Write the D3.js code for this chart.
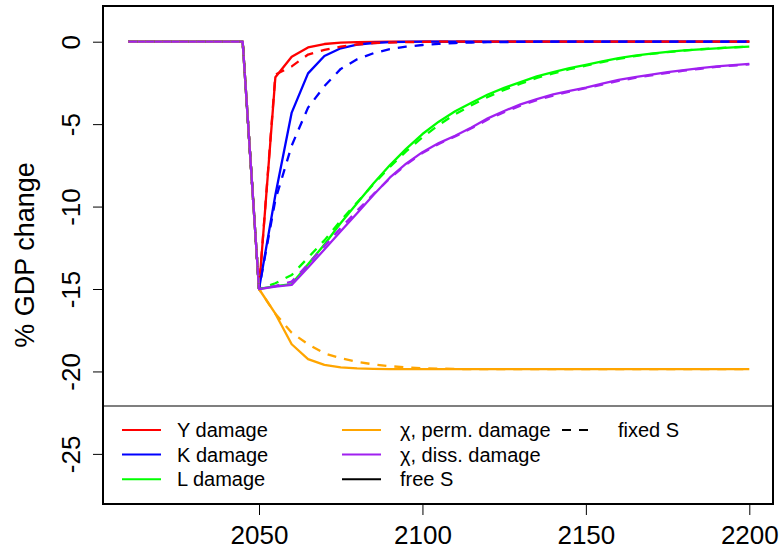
<!DOCTYPE html>
<html>
<head>
<meta charset="utf-8">
<script src="https://cdn.jsdelivr.net/npm/d3@7"></script>
<style>
  html, body { margin: 0; padding: 0; background: #fff; }
  svg { display: block; }
  text { font-family: "Liberation Sans", Arial, sans-serif; fill: #000; }
</style>
</head>
<body>
<svg id="chart" width="781" height="550"></svg>
<script>
// Model years (5-year steps)
const years = [2010, 2015, 2020, 2025, 2030, 2035, 2040, 2045,
  2050, 2055, 2060, 2065, 2070, 2075, 2080, 2085, 2090, 2095,
  2100, 2105, 2110, 2115, 2120, 2125, 2130, 2135, 2140, 2145,
  2150, 2155, 2160, 2165, 2170, 2175, 2180, 2185, 2190, 2195, 2200];

// % GDP change, free savings rate (solid lines)
const yDamageFree = [0, 0, 0, 0, 0, 0, 0, 0,
  -15, -2.16, -0.91, -0.35, -0.14, -0.06, -0.03, -0.01, 0, 0,
  0, 0, 0, 0, 0, 0, 0, 0, 0, 0, 0, 0, 0, 0, 0, 0, 0, 0, 0, 0, 0];
const kDamageFree = [0, 0, 0, 0, 0, 0, 0, 0,
  -15, -9.3, -4.3, -1.92, -0.87, -0.4, -0.18, -0.08, -0.03, -0.01,
  0, 0, 0, 0, 0, 0, 0, 0, 0, 0, 0, 0, 0, 0, 0, 0, 0, 0, 0, 0, 0];
const lDamageFree = [0, 0, 0, 0, 0, 0, 0, 0,
  -15, -14.82, -14.7, -13.5, -12.3, -11.0, -9.8, -8.6, -7.5, -6.5,
  -5.6, -4.85, -4.22, -3.7, -3.2, -2.8, -2.45, -2.1, -1.85, -1.6,
  -1.4, -1.2, -1.0, -0.85, -0.72, -0.62, -0.53, -0.46, -0.4, -0.34, -0.3];
const chiPermFree = [0, 0, 0, 0, 0, 0, 0, 0,
  -15, -16.5, -18.35, -19.25, -19.6, -19.75, -19.82, -19.85, -19.86, -19.86,
  -19.86, -19.86, -19.86, -19.86, -19.86, -19.86, -19.86, -19.86, -19.86, -19.86,
  -19.86, -19.86, -19.86, -19.86, -19.86, -19.86, -19.86, -19.86, -19.86, -19.86, -19.86];
const chiDissFree = [0, 0, 0, 0, 0, 0, 0, 0,
  -15, -14.85, -14.75, -13.7, -12.6, -11.5, -10.4, -9.3, -8.25, -7.4,
  -6.7, -6.15, -5.7, -5.2, -4.65, -4.2, -3.8, -3.48, -3.2, -2.98,
  -2.78, -2.55, -2.32, -2.15, -2.0, -1.85, -1.72, -1.6, -1.5, -1.42, -1.35];

// % GDP change, fixed savings rate (dashed lines)
const yDamageFixed = [0, 0, 0, 0, 0, 0, 0, 0,
  -15, -2.0, -1.5, -0.78, -0.5, -0.3, -0.17, -0.09, -0.05, -0.03,
  -0.01, 0, 0, 0, 0, 0, 0, 0, 0, 0, 0, 0, 0, 0, 0, 0, 0, 0, 0, 0, 0];
const kDamageFixed = [0, 0, 0, 0, 0, 0, 0, 0,
  -15, -9.6, -6.3, -4.0, -2.7, -1.65, -1.07, -0.7, -0.45, -0.3,
  -0.2, -0.13, -0.08, -0.05, -0.03, -0.02, -0.01, 0, 0, 0,
  0, 0, 0, 0, 0, 0, 0, 0, 0, 0, 0];
const lDamageFixed = [0, 0, 0, 0, 0, 0, 0, 0,
  -15, -14.65, -14.15, -13.1, -12.05, -10.85, -9.75, -8.65, -7.6, -6.65,
  -5.8, -5.05, -4.4, -3.85, -3.35, -2.92, -2.55, -2.2, -1.92, -1.67,
  -1.45, -1.24, -1.04, -0.87, -0.74, -0.63, -0.54, -0.46, -0.4, -0.34, -0.3];
const chiPermFixed = [0, 0, 0, 0, 0, 0, 0, 0,
  -15, -16.5, -17.65, -18.35, -18.9, -19.2, -19.42, -19.57, -19.68, -19.75,
  -19.8, -19.83, -19.85, -19.86, -19.86, -19.86, -19.86, -19.86, -19.86, -19.86,
  -19.86, -19.86, -19.86, -19.86, -19.86, -19.86, -19.86, -19.86, -19.86, -19.86, -19.86];
const chiDissFixed = [0, 0, 0, 0, 0, 0, 0, 0,
  -15, -14.82, -14.55, -13.5, -12.4, -11.3, -10.25, -9.25, -8.3, -7.45,
  -6.75, -6.2, -5.75, -5.25, -4.72, -4.27, -3.88, -3.55, -3.27, -3.03,
  -2.82, -2.6, -2.38, -2.2, -2.04, -1.89, -1.76, -1.64, -1.53, -1.45, -1.38];

const seriesNames = ["Y damage", "K damage", "L damage", "\u03C7, perm. damage", "\u03C7, diss. damage"];
const seriesColors = ["#FF0000", "#0000FF", "#00FF00", "#FFA500", "#A020F0"];
const freeSeries = [yDamageFree, kDamageFree, lDamageFree, chiPermFree, chiDissFree];
const fixedSeries = [yDamageFixed, kDamageFixed, lDamageFixed, chiPermFixed, chiDissFixed];

const xTicks = [2050, 2100, 2150, 2200];
const yTicks = [-25, -20, -15, -10, -5, 0];
const yLabel = "% GDP change";

// Plot region
const plotLeft = 103, plotRight = 773, plotTop = 6, plotBottom = 504;
const svg = d3.select("#chart");

const x = d3.scaleLinear().domain([2002.27, 2207.25]).range([plotLeft, plotRight]);
const y = d3.scaleLinear().domain([-28.04, 2.165]).range([plotBottom, plotTop]);

const line = d3.line()
  .x(d => x(d[0]))
  .y(d => y(d[1]));

const lines = svg.append("g");
// solid (free S) first, then dashed (fixed S) on top
freeSeries.forEach((vals, i) => {
  lines.append("path")
    .attr("d", line(years.map((yr, j) => [yr, vals[j]])))
    .attr("fill", "none")
    .attr("stroke", seriesColors[i])
    .attr("stroke-width", 2.3)
    .attr("stroke-linejoin", "round");
});
fixedSeries.forEach((vals, i) => {
  lines.append("path")
    .attr("d", line(years.map((yr, j) => [yr, vals[j]])))
    .attr("fill", "none")
    .attr("stroke", seriesColors[i])
    .attr("stroke-width", 2.3)
    .attr("stroke-dasharray", "9,8")
    .attr("stroke-linejoin", "round");
});

// Axes
const axisFont = 26;
const yAxis = svg.append("g")
  .attr("transform", `translate(${plotLeft},0)`)
  .call(d3.axisLeft(y).tickValues(yTicks).tickSize(10).tickFormat(d3.format("d")));
yAxis.select(".domain").remove();
yAxis.selectAll(".tick line").attr("stroke", "#000").attr("stroke-width", 1);
yAxis.selectAll(".tick text")
  .attr("x", null).attr("dy", null)
  .attr("transform", "translate(-23,0) rotate(-90)")
  .attr("text-anchor", "middle")
  .style("font-size", axisFont + "px")
  .style("font-family", '"Liberation Sans", Arial, sans-serif')
  .attr("fill", "#000")
  .text(d => d < 0 ? "-" + Math.abs(d) : String(d));

const xAxis = svg.append("g")
  .attr("transform", `translate(0,${plotBottom})`)
  .call(d3.axisBottom(x).tickValues(xTicks).tickSize(11).tickFormat(d3.format("d")));
xAxis.select(".domain").remove();
xAxis.selectAll(".tick line").attr("stroke", "#000").attr("stroke-width", 1);
xAxis.selectAll(".tick text")
  .attr("y", 40).attr("dy", null)
  .style("font-size", axisFont + "px")
  .style("font-family", '"Liberation Sans", Arial, sans-serif')
  .attr("fill", "#000");

svg.append("text")
  .attr("transform", `translate(34,${(plotTop + plotBottom) / 2}) rotate(-90)`)
  .attr("text-anchor", "middle")
  .style("font-size", "27px")
  .text(yLabel);

// Legend
const legendTop = 406;
svg.append("line")
  .attr("x1", plotLeft).attr("x2", plotRight)
  .attr("y1", legendTop).attr("y2", legendTop)
  .attr("stroke", "#555").attr("stroke-width", 1.5);

const legendFont = 20;
const rowY = [430, 454.6, 479.2];
const legend = svg.append("g").style("font-size", legendFont + "px");

const legendItems = [
  { label: seriesNames[0], color: seriesColors[0], col: 0, row: 0, dash: null },
  { label: seriesNames[1], color: seriesColors[1], col: 0, row: 1, dash: null },
  { label: seriesNames[2], color: seriesColors[2], col: 0, row: 2, dash: null },
  { label: seriesNames[3], color: seriesColors[3], col: 1, row: 0, dash: null },
  { label: seriesNames[4], color: seriesColors[4], col: 1, row: 1, dash: null },
  { label: "free S", color: "#000", col: 1, row: 2, dash: null },
  { label: "fixed S", color: "#000", col: 2, row: 0, dash: "9,8" }
];
const colLine = [[122, 161], [342, 381], [562, 592]];
const colText = [177, 400, 618];

legendItems.forEach(it => {
  const ly = rowY[it.row];
  const l = legend.append("line")
    .attr("x1", colLine[it.col][0]).attr("x2", colLine[it.col][1])
    .attr("y1", ly).attr("y2", ly)
    .attr("stroke", it.color).attr("stroke-width", 2);
  if (it.dash) l.attr("stroke-dasharray", it.dash);
  legend.append("text")
    .attr("x", colText[it.col]).attr("y", ly + legendFont * 0.36)
    .text(it.label);
});

// Plot frame
svg.append("rect")
  .attr("x", plotLeft).attr("y", plotTop)
  .attr("width", plotRight - plotLeft).attr("height", plotBottom - plotTop)
  .attr("fill", "none").attr("stroke", "#000").attr("stroke-width", 2);
</script>
</body>
</html>
